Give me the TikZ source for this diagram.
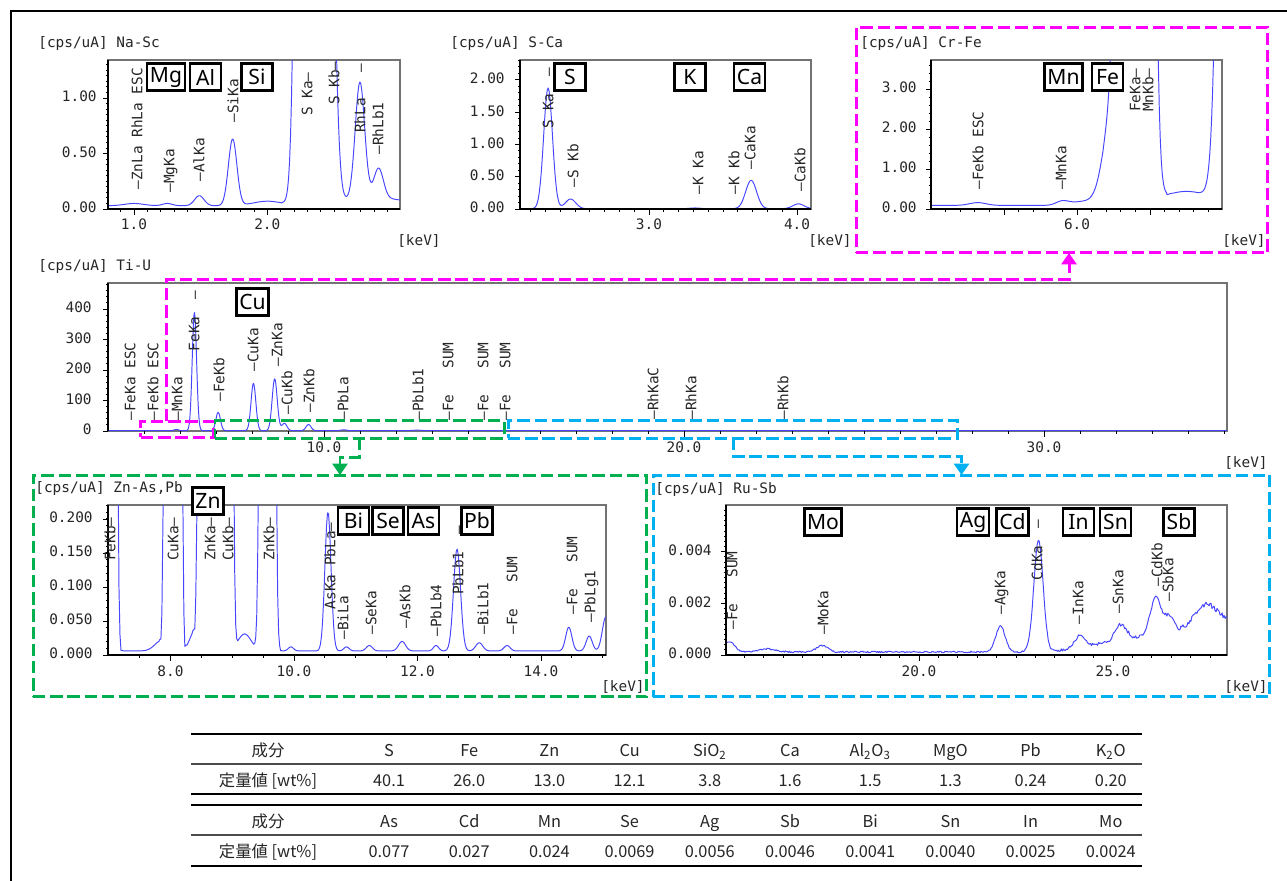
\documentclass[tikz,border=0pt]{standalone}
\usepackage{fontspec}
\usetikzlibrary{arrows.meta}
\newfontfamily\specfont{DejaVu Sans Mono}
\newfontfamily\elfont{Noto Sans}
\newfontfamily\jpfont{Noto Sans CJK JP}
\definecolor{selmag}{RGB}{255,0,255}
\definecolor{selgrn}{RGB}{0,176,80}
\definecolor{selcyn}{RGB}{0,176,240}
\definecolor{specblue}{RGB}{70,70,255}

\begin{document}
\begin{tikzpicture}[x=0.02cm, y=-0.02cm,
  declare function={gs(\zz)=exp(-min(\zz,3.5)*min(\zz,3.5))*(\zz<3.5);
                     gau(\xx,\cc,\ww)=gs(abs(\xx-\cc)/\ww);}]
\tikzstyle{Spec}=[draw=specblue, line width=0.55pt, line join=round]
\tikzstyle{Frame}=[draw=black!55, line width=0.6pt]
\tikzstyle{Axis}=[draw=black, line width=0.7pt]
\tikzstyle{Tick}=[draw=black, line width=0.5pt]
\tikzstyle{MonoText}=[font=\specfont\fontsize{8.2}{8.2}\selectfont, inner sep=0pt,
                      text=black!85, text height=6pt, text depth=1.5pt]
\tikzstyle{Title}=[MonoText, anchor=west]
\tikzstyle{YLab}=[MonoText, anchor=east]
\tikzstyle{XLab}=[MonoText, anchor=center]
\tikzstyle{UnitLab}=[MonoText, anchor=east]
\tikzstyle{PeakUp}=[MonoText, rotate=90, anchor=west, text depth=0pt]
\tikzstyle{PeakDown}=[MonoText, rotate=90, anchor=east, text depth=0pt]
\tikzstyle{ElemBox}=[draw, line width=1.5pt, fill=white,
                     font=\elfont\fontsize{12}{12}\selectfont,
                     minimum width=17.6pt, minimum height=15.6pt,
                     inner xsep=1.6pt, inner ysep=0pt]
\tikzstyle{DashLine}=[line width=1.7pt, dash pattern=on 7pt off 2.8pt]
\tikzstyle{SelBox}=[DashLine, inner sep=0pt, outer sep=0pt]
\tikzstyle{Link}=[DashLine, -{Triangle[width=8.5pt,length=6.5pt]}]
\tikzstyle{TabText}=[font=\jpfont\fontsize{9.3}{9.3}\selectfont, inner sep=0pt,
                     text=black!85, text height=7pt, text depth=1.5pt]
\tikzstyle{ThickRule}=[line width=1.3pt]
\tikzstyle{ThinRule}=[line width=0.6pt, draw=black!70]

\useasboundingbox (0,0) rectangle (1287,880);
\fill[white] (0,0) rectangle (1287,880);
\draw[line width=1.7pt] (11,882) -- (11,11) -- (1289,11);

% Na-Sc
\draw[Frame] (108,60) rectangle (400,209);
\begin{scope}
\clip (108,60) rectangle (400,209);
\draw[Spec] plot[domain=0.805:2.995, samples=300] ({0.7+133.3*\x}, {209-111*min(1.5, 0.03+0.02*gau(\x,1.0,0.1)+0.02*gau(\x,1.25,0.05)+0.09*gau(\x,1.49,0.05)+0.6*gau(\x,1.74,0.045)+0.04*gau(\x,2.0,0.15)+40*gau(\x,2.307,0.065)+5*gau(\x,2.45,0.06)+1.05*gau(\x,2.695,0.05)+0.27*gau(\x,2.835,0.05)+0.07*gau(\x,2.8,0.35))});
\end{scope}
\draw[Axis] (108,60) -- (108,209) -- (400,209);
\foreach \v in {0.05,0.1,...,1.31} \draw[Tick] (108,{209-111*\v}) -- ++(-2.5,0);
\foreach \v in {0,0.5,1} \draw[Tick] (108,{209-111*\v}) -- ++(-5,0);
\foreach \k in {0.9,1.0,...,2.95} \draw[Tick] ({0.7+133.3*\k},209) -- ++(0,3);
\foreach \k in {1,2} \draw[Tick] ({0.7+133.3*\k},209) -- ++(0,6);
\node[Title] (tnasc) at (38,44) {[cps/uA] Na-Sc};
\node[YLab] (ynasc0) at (97,209) {0.00};
\node[YLab] (ynasc1) at (97,153.5) {0.50};
\node[YLab] (ynasc2) at (97,98) {1.00};
\node[XLab] (xnasc1) at (134,226) {1.0};
\node[XLab] (xnasc2) at (267.3,226) {2.0};
\node[UnitLab] (knasc) at (441,242) {[keV]};
\node[PeakUp] (pznla) at (137,190) {—ZnLa RhLa ESC};
\node[PeakUp] (pmgka) at (169,193) {—MgKa};
\node[PeakUp] (palka) at (199,182) {—AlKa};
\node[PeakUp] (psika) at (233,123) {—SiKa};
\node[PeakDown] (pska) at (307,72) {S Ka—};
\node[PeakDown] (pskb) at (334,61) {S Kb—};
\node[PeakDown] (prhla) at (360,63) {RhLa\ \ \ —};
\node[PeakUp] (prhlb) at (378,155) {—RhLb1};
\node[ElemBox] (mg) at (166,77) {Mg};
\node[ElemBox] (al) at (205.5,77) {Al};
\node[ElemBox] (si) at (257,77) {Si};

% S-Ca
\draw[Frame] (520,60) rectangle (811,209);
\begin{scope}
\clip (520,60) rectangle (811,209);
\draw[Spec] plot[domain=2.128:4.095, samples=300] ({205+148*\x}, {209-64.6*min(2.4, 0.004+1.87*gau(\x,2.318,0.042)+0.15*gau(\x,2.47,0.05)+0.012*gau(\x,3.31,0.05)+0.44*gau(\x,3.69,0.052)+0.075*gau(\x,4.01,0.055))});
\end{scope}
\draw[Axis] (520,60) -- (520,209) -- (811,209);
\foreach \v in {0.1,0.2,...,2.3} \draw[Tick] (520,{209-64.6*\v}) -- ++(-2.5,0);
\foreach \v in {0,0.5,...,2} \draw[Tick] (520,{209-64.6*\v}) -- ++(-5,0);
\foreach \k in {2.2,2.3,...,4.05} \draw[Tick] ({205+148*\k},209) -- ++(0,3);
\foreach \k in {3,4} \draw[Tick] ({205+148*\k},209) -- ++(0,6);
\node[Title] (tsca) at (450,44) {[cps/uA] S-Ca};
\node[YLab] (ysca0) at (505,209) {0.00};
\node[YLab] (ysca1) at (505,176.7) {0.50};
\node[YLab] (ysca2) at (505,144.4) {1.00};
\node[YLab] (ysca3) at (505,112.1) {1.50};
\node[YLab] (ysca4) at (505,79.8) {2.00};
\node[XLab] (xsca3) at (649,226) {3.0};
\node[XLab] (xsca4) at (797,226) {4.0};
\node[UnitLab] (ksca) at (852,242) {[keV]};
\node[PeakDown] (qska) at (548,67) {S Ka\ \ —};
\node[PeakUp] (qskb) at (573,188) {—S Kb};
\node[PeakUp] (qkka) at (698,195) {—K Ka};
\node[PeakUp] (qkkb) at (734,195) {—K Kb};
\node[PeakUp] (qcaka) at (750,170) {—CaKa};
\node[PeakUp] (qcakb) at (800,192) {—CaKb};
\node[ElemBox] (s) at (570,77) {S};
\node[ElemBox] (k) at (690,77) {K};
\node[ElemBox] (ca) at (749.5,77) {Ca};

% Cr-Fe
\draw[Frame] (931,60) rectangle (1222,209);
\begin{scope}
\clip (931,60) rectangle (1222,209);
\draw[Spec] plot[domain=5.0:6.993, samples=300] ({201+146*\x}, {209-40*min(4, 0.09+0.07*gau(\x,5.32,0.08)+0.1*gau(\x,5.9,0.06)+0.1*gau(\x,6.05,0.12)+2.5*gau(\x,6.25,0.09)+390*gau(\x,6.40,0.072)+0.35*gau(\x,6.75,0.25)+60*gau(\x,7.07,0.08))});
\end{scope}
\draw[Axis] (931,60) -- (931,209) -- (1222,209);
\foreach \v in {0.2,0.4,...,3.6} \draw[Tick] (931,{209-40*\v}) -- ++(-2.5,0);
\foreach \v in {0,1,2,3} \draw[Tick] (931,{209-40*\v}) -- ++(-5,0);
\foreach \k in {5.1,5.2,...,6.95} \draw[Tick] ({201+146*\k},209) -- ++(0,3);
\foreach \k in {5.5,6,6.5} \draw[Tick] ({201+146*\k},209) -- ++(0,6);
\node[Title] (tcrfe) at (860,44) {[cps/uA] Cr-Fe};
\node[YLab] (ycrfe0) at (917,209) {0.00};
\node[YLab] (ycrfe1) at (917,169) {1.00};
\node[YLab] (ycrfe2) at (917,129) {2.00};
\node[YLab] (ycrfe3) at (917,89) {3.00};
\node[XLab] (xcrfe6) at (1077,226) {6.0};
\node[UnitLab] (kcrfe) at (1266,242) {[keV]};
\node[PeakUp] (rfekbesc) at (978,190) {—FeKb ESC};
\node[PeakUp] (rmnka) at (1061,190) {—MnKa};
\node[PeakDown] (rfeka) at (1135,68) {FeKa—};
\node[PeakDown] (rmnkb) at (1148,68) {MnKb—};
\node[ElemBox] (mn) at (1063.5,77) {Mn};
\node[ElemBox] (fe) at (1107.5,77) {Fe};

% Ti-U
\draw[Frame] (108,283) rectangle (1227,431);
\begin{scope}
\clip (108,283) rectangle (1227,431);
\draw[Spec] plot[domain=4.0:12, samples=500] ({-36+36*\x}, {431-0.305*(1+4*gau(\x,5.9,0.09)+388*gau(\x,6.40,0.085)+60*gau(\x,7.06,0.09)+155*gau(\x,8.04,0.095)+170*gau(\x,8.63,0.1)+24*gau(\x,8.9,0.1)+20*gau(\x,9.57,0.1)+3*gau(\x,10.55,0.12))})
  -- plot[domain=12:35.08, samples=80] ({-36+36*\x}, {431-0.305*(1+2*gau(\x,12.6,0.15))});
\end{scope}
\draw[Axis] (108,283) -- (108,431);
\foreach \v in {20,40,...,480} \draw[Tick] (108,{431-0.305*\v}) -- ++(-2.5,0);
\foreach \v in {0,100,...,400} \draw[Tick] (108,{431-0.305*\v}) -- ++(-5,0);
\foreach \k in {5,6,...,35} \draw[Tick] ({-36+36*\k},431) -- ++(0,3);
\foreach \k in {10,20,30} \draw[Tick] ({-36+36*\k},431) -- ++(0,6);
\node[Title] (ttiu) at (38,267) {[cps/uA] Ti-U};
\node[YLab] (ytiu0) at (92,431) {0};
\node[YLab] (ytiu1) at (92,400.5) {100};
\node[YLab] (ytiu2) at (92,370) {200};
\node[YLab] (ytiu3) at (92,339.5) {300};
\node[YLab] (ytiu4) at (92,309) {400};
\node[XLab] (xtiu1) at (324,449) {10.0};
\node[XLab] (xtiu2) at (684,449) {20.0};
\node[XLab] (xtiu3) at (1044,449) {30.0};
\node[UnitLab] (ktiu) at (1268,464) {[keV]};
\node[PeakUp] (sfekaesc) at (130,421) {—FeKa ESC};
\node[PeakUp] (sfekbesc) at (153,421) {—FeKb ESC};
\node[PeakUp] (smnka) at (177,421) {—MnKa};
\node[PeakDown] (sfeka) at (194,290) {FeKa\ \ —};
\node[PeakUp] (sfekb) at (219,402) {—FeKb};
\node[PeakUp] (scuka) at (253,372) {—CuKa};
\node[PeakUp] (sznka) at (277,367) {—ZnKa};
\node[PeakUp] (scukb) at (287,415) {—CuKb};
\node[PeakUp] (sznkb) at (309,413) {—ZnKb};
\node[PeakUp] (spbla) at (343,421) {—PbLa};
\node[PeakUp] (spblb) at (418,421) {—PbLb1};
\node[PeakUp] (ssum1) at (448,421) {—Fe\ \ \ SUM};
\node[PeakUp] (ssum2) at (483,421) {—Fe\ \ \ SUM};
\node[PeakUp] (ssum3) at (505,421) {—Fe\ \ \ SUM};
\node[PeakUp] (srhkac) at (653,420) {—RhKaC};
\node[PeakUp] (srhka) at (691,420) {—RhKa};
\node[PeakUp] (srhkb) at (783,420) {—RhKb};
\node[ElemBox] (cu) at (252.5,302) {Cu};

% Zn-As,Pb
\draw[Frame] (108,505) rectangle (606,655);
\begin{scope}
\clip (108,505) rectangle (606,655);
\draw[Spec] plot[domain=6.988:15.053, samples=500] ({-323.5+61.75*\x}, {655-680*min(0.3, 0.006+62*gau(\x,7.0,0.065)+0.015*gau(\x,7.85,0.15)+157*gau(\x,8.04,0.0625)+0.03*gau(\x,8.4,0.12)+172*gau(\x,8.63,0.0775)+25*gau(\x,8.9,0.06)+0.025*gau(\x,9.2,0.15)+22*gau(\x,9.57,0.07)+0.006*gau(\x,9.95,0.06)+0.205*gau(\x,10.55,0.07)+0.006*gau(\x,10.85,0.06)+0.008*gau(\x,11.22,0.07)+0.014*gau(\x,11.75,0.08)+0.008*gau(\x,12.3,0.06)+0.15*gau(\x,12.64,0.08)+0.012*gau(\x,13.0,0.08)+0.008*gau(\x,13.45,0.07)+0.035*gau(\x,14.45,0.07)+0.022*gau(\x,14.78,0.07)+0.05*gau(\x,15.05,0.08))});
\end{scope}
\draw[Axis] (108,505) -- (108,655) -- (606,655);
\foreach \v in {0.01,0.02,...,0.221} \draw[Tick] (108,{655-680*\v}) -- ++(-2.5,0);
\foreach \v in {0,0.05,...,0.21} \draw[Tick] (108,{655-680*\v}) -- ++(-5,0);
\foreach \k in {7.5,8,...,15} \draw[Tick] ({-323.5+61.75*\k},655) -- ++(0,3);
\foreach \k in {8,10,12,14} \draw[Tick] ({-323.5+61.75*\k},655) -- ++(0,6);
\node[Title] (tznas) at (35,489) {[cps/uA] Zn-As,Pb};
\node[YLab] (yznas0) at (93,655) {0.000};
\node[YLab] (yznas1) at (93,621) {0.050};
\node[YLab] (yznas2) at (93,587) {0.100};
\node[YLab] (yznas3) at (93,553) {0.150};
\node[YLab] (yznas4) at (93,519) {0.200};
\node[XLab] (xznas8) at (170.5,673) {8.0};
\node[XLab] (xznas10) at (294,673) {10.0};
\node[XLab] (xznas12) at (417.5,673) {12.0};
\node[XLab] (xznas14) at (541,673) {14.0};
\node[UnitLab] (kznas) at (645,688) {[keV]};
\node[PeakDown] (ufekb) at (110,517) {FeKb—};
\node[PeakDown] (ucuka) at (173,517) {CuKa—};
\node[PeakDown] (uznka) at (210,517) {ZnKa—};
\node[PeakDown] (ucukb) at (228,517) {CuKb—};
\node[PeakDown] (uznkb) at (269,517) {ZnKb—};
\node[PeakDown] (uaska) at (330,522) {AsKa PbLa—};
\node[PeakUp] (ubila) at (343,640) {—BiLa};
\node[PeakUp] (useka) at (371,635) {—SeKa};
\node[PeakUp] (uaskb) at (405,629) {—AsKb};
\node[PeakUp] (upblb4) at (436,637) {—PbLb4};
\node[PeakDown] (upblb1) at (458,525) {PbLb1\ \ —};
\node[PeakUp] (ubilb1) at (483,635) {—BiLb1};
\node[PeakUp] (usum1) at (512,635) {—Fe\ \ \ SUM};
\node[PeakUp] (usum2) at (572,615) {—Fe\ \ \ SUM};
\node[PeakUp] (upblg1) at (590,623) {—PbLg1};
\node[ElemBox] (zn) at (208,501) {Zn};
\node[ElemBox] (bi) at (353.5,521) {Bi};
\node[ElemBox] (se) at (388,521) {Se};
\node[ElemBox] (as) at (423.5,521) {As};
\node[ElemBox] (pb) at (477,521) {Pb};

% Ru-Sb
\draw[Frame] (726,505) rectangle (1227,655);
\pgfmathsetseed{11}
\begin{scope}
\clip (726,505) rectangle (1227,655);
\draw[Spec] plot[domain=15.026:27.94, samples=500] ({143+38.8*\x}, {655-25.833*min(6, 0.12+(0.03+0.012*max(0,\x-22))*rand+0.4*gau(\x,15.1,0.2)+0.12*gau(\x,16.1,0.3)+0.25*gau(\x,17.5,0.2)+1.0*gau(\x,22.1,0.17)+4.3*gau(\x,23.08,0.17)+0.45*gau(\x,24.15,0.18)+0.6*gau(\x,25.2,0.2)+1.4*gau(\x,26.1,0.2)+0.6*gau(\x,26.45,0.15)+0.8*gau(\x,27.4,0.4)+0.26*max(0,\x-23.4))});
\end{scope}
\draw[Axis] (726,505) -- (726,655) -- (1227,655);
\foreach \v in {0.2,0.4,...,5.7} \draw[Tick] (726,{655-25.833*\v}) -- ++(-2.5,0);
\foreach \v in {0,2,4} \draw[Tick] (726,{655-25.833*\v}) -- ++(-5,0);
\foreach \k in {15.5,16,...,27.5} \draw[Tick] ({143+38.8*\k},655) -- ++(0,3);
\foreach \k in {20,25} \draw[Tick] ({143+38.8*\k},655) -- ++(0,6);
\node[Title] (trusb) at (655,490) {[cps/uA] Ru-Sb};
\node[YLab] (yrusb0) at (712,655) {0.000};
\node[YLab] (yrusb1) at (712,603.3) {0.002};
\node[YLab] (yrusb2) at (712,551.7) {0.004};
\node[XLab] (xrusb20) at (919,673) {20.0};
\node[XLab] (xrusb25) at (1113,673) {25.0};
\node[UnitLab] (krusb) at (1268,688) {[keV]};
\node[PeakUp] (wsum) at (732,630) {—Fe\ \ \ SUM};
\node[PeakUp] (wmoka) at (823,635) {—MoKa};
\node[PeakUp] (wagka) at (1000,615) {—AgKa};
\node[PeakDown] (wcdka) at (1037,519) {CdKa\ \ —};
\node[PeakUp] (winka) at (1078,625) {—InKa};
\node[PeakUp] (wsnka) at (1118,614) {—SnKa};
\node[PeakUp] (wcdkb) at (1157,587) {—CdKb};
\node[PeakUp] (wsbka) at (1168,602) {—SbKa};
\node[ElemBox] (mo) at (823,522) {Mo};
\node[ElemBox] (ag) at (973,522) {Ag};
\node[ElemBox] (cd) at (1012.5,522) {Cd};
\node[ElemBox] (in) at (1078.5,522) {In};
\node[ElemBox] (sn) at (1115.5,522) {Sn};
\node[ElemBox] (sb) at (1179,522) {Sb};

% selections and zoom links
\node[SelBox, draw=selmag, minimum width=41pt, minimum height=9.1pt] (selfe) at (177,429) {};
\node[SelBox, draw=selgrn, minimum width=164.5pt, minimum height=9.7pt] (selzn) at (359.5,429.5) {};
\node[SelBox, draw=selcyn, minimum width=256.1pt, minimum height=9.7pt] (selru) at (733,429.5) {};
\node[SelBox, draw=selmag, minimum width=234.4pt, minimum height=128.6pt] (zcrfe) at (1062,140) {};
\node[SelBox, draw=selgrn, minimum width=349.4pt, minimum height=126.3pt] (zznas) at (340,586) {};
\node[SelBox, draw=selcyn, minimum width=351.1pt, minimum height=126.3pt] (zrusb) at (961.5,586) {};
\coordinate (mturn) at (1069,279);
\draw[Link, selmag] ([xshift=-5.7pt]selfe.north) |- (mturn) -- (zcrfe.south -| mturn);
\draw[Link, selgrn] (selzn.south) -- ++(0,19) -| (zznas.north);
\draw[Link, selcyn] (selru.south) -- ++(0,18) -| (zrusb.north);

% table
\draw[ThickRule] (191,734) -- (1142,734);
\draw[ThinRule] (191,764) -- (1142,764);
\draw[ThickRule] (191,794) -- (1142,794);
\draw[ThickRule] (191,805) -- (1142,805);
\draw[ThinRule] (191,835) -- (1142,835);
\draw[ThickRule] (191,866) -- (1142,866);
\node[TabText] (ha0) at (268,752) {成分};
\node[TabText] (ha1) at (389,752) {S};
\node[TabText] (ha2) at (469.2,752) {Fe};
\node[TabText] (ha3) at (549.4,752) {Zn};
\node[TabText] (ha4) at (629.6,752) {Cu};
\node[TabText] (ha5) at (709.8,752) {SiO\textsubscript{2}};
\node[TabText] (ha6) at (790,752) {Ca};
\node[TabText] (ha7) at (870.2,752) {Al\textsubscript{2}O\textsubscript{3}};
\node[TabText] (ha8) at (950.4,752) {MgO};
\node[TabText] (ha9) at (1030.6,752) {Pb};
\node[TabText] (ha10) at (1110.8,752) {K\textsubscript{2}O};
\node[TabText] (va0) at (268,782) {定量値 [wt\%]};
\node[TabText] (va1) at (389,782) {40.1};
\node[TabText] (va2) at (469.2,782) {26.0};
\node[TabText] (va3) at (549.4,782) {13.0};
\node[TabText] (va4) at (629.6,782) {12.1};
\node[TabText] (va5) at (709.8,782) {3.8};
\node[TabText] (va6) at (790,782) {1.6};
\node[TabText] (va7) at (870.2,782) {1.5};
\node[TabText] (va8) at (950.4,782) {1.3};
\node[TabText] (va9) at (1030.6,782) {0.24};
\node[TabText] (va10) at (1110.8,782) {0.20};
\node[TabText] (hb0) at (268,823) {成分};
\node[TabText] (hb1) at (389,823) {As};
\node[TabText] (hb2) at (469.2,823) {Cd};
\node[TabText] (hb3) at (549.4,823) {Mn};
\node[TabText] (hb4) at (629.6,823) {Se};
\node[TabText] (hb5) at (709.8,823) {Ag};
\node[TabText] (hb6) at (790,823) {Sb};
\node[TabText] (hb7) at (870.2,823) {Bi};
\node[TabText] (hb8) at (950.4,823) {Sn};
\node[TabText] (hb9) at (1030.6,823) {In};
\node[TabText] (hb10) at (1110.8,823) {Mo};
\node[TabText] (vb0) at (268,853) {定量値 [wt\%]};
\node[TabText] (vb1) at (389,853) {0.077};
\node[TabText] (vb2) at (469.2,853) {0.027};
\node[TabText] (vb3) at (549.4,853) {0.024};
\node[TabText] (vb4) at (629.6,853) {0.0069};
\node[TabText] (vb5) at (709.8,853) {0.0056};
\node[TabText] (vb6) at (790,853) {0.0046};
\node[TabText] (vb7) at (870.2,853) {0.0041};
\node[TabText] (vb8) at (950.4,853) {0.0040};
\node[TabText] (vb9) at (1030.6,853) {0.0025};
\node[TabText] (vb10) at (1110.8,853) {0.0024};
\end{tikzpicture}
\end{document}
